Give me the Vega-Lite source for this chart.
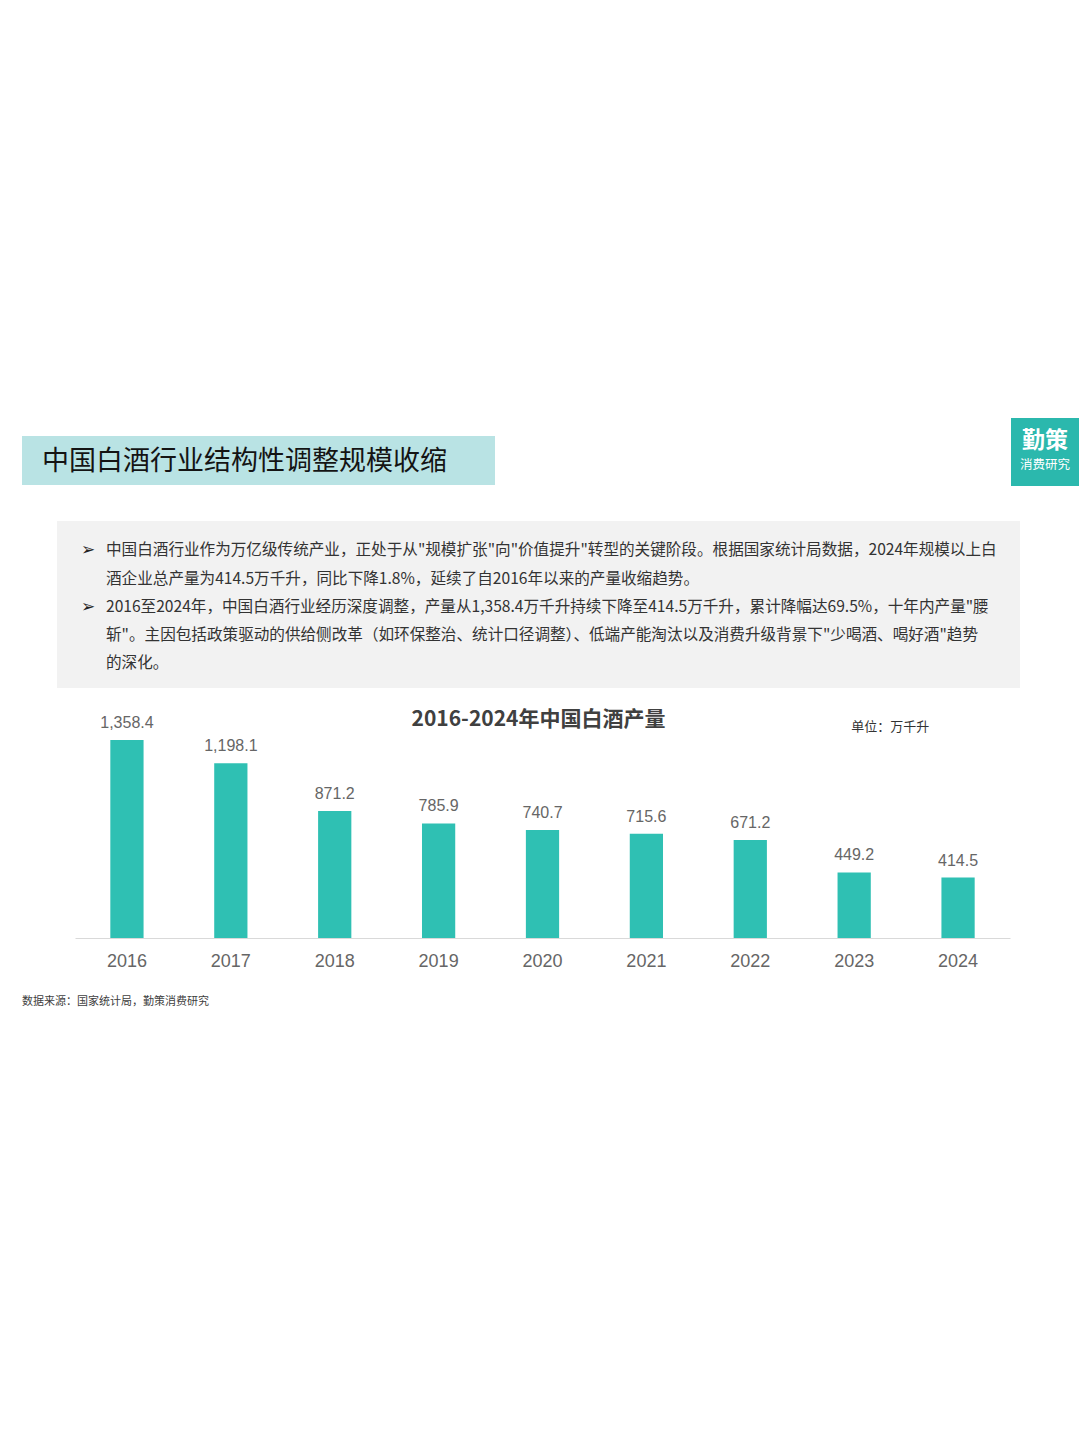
{
  "$schema": "https://vega.github.io/schema/vega-lite/v6.json",
  "background": "white",
  "padding": {"left": 22, "top": 418, "right": 0, "bottom": 0},
  "config": {
    "view": {"stroke": null},
    "font": "Noto Sans CJK SC",
    "concat": {"spacing": 0}
  },
  "spacing": 0,
  "vconcat": [
    {
      "spacing": 516,
      "hconcat": [
        {
          "spacing": 0,
          "vconcat": [
            {"width": 473, "height": 18, "data": {"values": [{}]}, "mark": {"type": "text", "fontSize": 0}, "encoding": {"text": {"value": ""}}},
            {
              "width": 473,
              "height": 49,
              "view": {"fill": "#b9e3e4", "stroke": null},
              "data": {"values": [{"t": "中国白酒行业结构性调整规模收缩"}]},
              "mark": {"type": "text", "align": "left", "baseline": "middle", "dy": 1.5, "fontSize": 27, "color": "#141414", "font": "Noto Sans CJK SC"},
              "encoding": {"x": {"value": 20}, "text": {"field": "t"}}
            }
          ]
        },
        {
          "width": 68,
          "height": 68,
          "view": {"fill": "#2bb8ad", "stroke": null},
          "data": {"values": [{"t": "勤策", "r": "a"}, {"t": "消费研究", "r": "b"}]},
          "layer": [
            {
              "transform": [{"filter": "datum.r == 'a'"}],
              "mark": {"type": "text", "baseline": "middle", "fontSize": 23, "fontWeight": "bold", "color": "white", "font": "Noto Sans CJK SC", "y": 23},
              "encoding": {"text": {"field": "t"}}
            },
            {
              "transform": [{"filter": "datum.r == 'b'"}],
              "mark": {"type": "text", "baseline": "middle", "fontSize": 12.5, "color": "white", "font": "Noto Sans CJK SC", "y": 47},
              "encoding": {"text": {"field": "t"}}
            }
          ]
        }
      ]
    },
    {"width": 1, "height": 35, "data": {"values": [{}]}, "mark": {"type": "text", "fontSize": 0}, "encoding": {"text": {"value": ""}}},
    {
      "spacing": 34,
      "hconcat": [
        {"width": 1, "height": 1, "data": {"values": [{}]}, "mark": {"type": "text", "fontSize": 0}, "encoding": {"text": {"value": ""}}},
        {
          "width": 963,
          "height": 167,
          "view": {"fill": "#f2f2f2", "stroke": null},
          "data": {
            "values": [
              {"line": 1, "bullet": "➢", "text": "中国白酒行业作为万亿级传统产业，正处于从\"规模扩张\"向\"价值提升\"转型的关键阶段。根据国家统计局数据，2024年规模以上白"},
              {"line": 2, "bullet": "", "text": "酒企业总产量为414.5万千升，同比下降1.8%，延续了自2016年以来的产量收缩趋势。"},
              {"line": 3, "bullet": "➢", "text": "2016至2024年，中国白酒行业经历深度调整，产量从1,358.4万千升持续下降至414.5万千升，累计降幅达69.5%，十年内产量\"腰"},
              {"line": 4, "bullet": "", "text": "斩\"。主因包括政策驱动的供给侧改革（如环保整治、统计口径调整）、低端产能淘汰以及消费升级背景下\"少喝酒、喝好酒\"趋势"},
              {"line": 5, "bullet": "", "text": "的深化。"}
            ]
          },
          "encoding": {
            "y": {"field": "line", "type": "quantitative", "scale": {"domain": [0, 5.91], "reverse": true, "nice": false, "zero": false}, "axis": null}
          },
          "layer": [
            {
              "mark": {"type": "text", "align": "left", "baseline": "middle", "dy": 1, "fontSize": 17, "color": "#222222", "font": "DejaVu Sans", "x": 24},
              "encoding": {"text": {"field": "bullet"}}
            },
            {
              "mark": {"type": "text", "align": "left", "baseline": "middle", "dy": 1, "fontSize": 15.6, "color": "#333333", "font": "Noto Sans CJK SC", "x": 49},
              "encoding": {"text": {"field": "text"}}
            }
          ]
        }
      ]
    },
    {"width": 1, "height": 12, "data": {"values": [{}]}, "mark": {"type": "text", "fontSize": 0}, "encoding": {"text": {"value": ""}}},
    {
      "spacing": 52,
      "hconcat": [
        {"width": 1, "height": 1, "data": {"values": [{}]}, "mark": {"type": "text", "fontSize": 0}, "encoding": {"text": {"value": ""}}},
        {
          "width": 935,
          "height": 238,
          "title": {"text": "2016-2024年中国白酒产量", "fontSize": 21, "fontWeight": "bold", "color": "#404040", "anchor": "middle", "frame": "group", "baseline": "middle", "offset": -41, "dx": -4, "font": "Noto Sans CJK SC"},
          "data": {
            "values": [
              {"year": "2016", "value": 1358.4},
              {"year": "2017", "value": 1198.1},
              {"year": "2018", "value": 871.2},
              {"year": "2019", "value": 785.9},
              {"year": "2020", "value": 740.7},
              {"year": "2021", "value": 715.6},
              {"year": "2022", "value": 671.2},
              {"year": "2023", "value": 449.2},
              {"year": "2024", "value": 414.5}
            ]
          },
          "encoding": {
            "x": {
              "field": "year",
              "type": "ordinal",
              "scale": {"paddingInner": 0.68, "paddingOuter": 0.34},
              "axis": {"title": null, "labelAngle": 0, "ticks": false, "grid": false, "domainColor": "#d9d9d9", "domainWidth": 1, "labelFontSize": 18, "labelColor": "#666666", "labelFont": "Liberation Sans", "labelPadding": 14}
            }
          },
          "layer": [
            {
              "mark": {"type": "bar", "color": "#2fc0b3"},
              "encoding": {"y": {"field": "value", "type": "quantitative", "scale": {"domain": [0, 1632], "nice": false}, "axis": null}}
            },
            {
              "mark": {"type": "text", "baseline": "alphabetic", "dy": -12, "fontSize": 16, "color": "#666666", "font": "Liberation Sans"},
              "encoding": {
                "y": {"field": "value", "type": "quantitative"},
                "text": {"field": "value", "type": "quantitative", "format": ",.1f"}
              }
            },
            {
              "data": {"values": [{"t": "单位：万千升"}]},
              "mark": {"type": "text", "align": "left", "baseline": "middle", "dx": -3, "fontSize": 13, "color": "#333333", "font": "Noto Sans CJK SC"},
              "encoding": {"x": {"datum": "2023"}, "y": {"datum": 1447}, "text": {"field": "t"}}
            }
          ]
        }
      ]
    },
    {"width": 1, "height": 26, "data": {"values": [{}]}, "mark": {"type": "text", "fontSize": 0}, "encoding": {"text": {"value": ""}}},
    {
      "width": 300,
      "height": 12,
      "data": {"values": [{"t": "数据来源：国家统计局，勤策消费研究"}]},
      "mark": {"type": "text", "align": "left", "baseline": "middle", "fontSize": 11, "color": "#404040", "font": "Noto Sans CJK SC", "x": 0},
      "encoding": {"text": {"field": "t"}}
    }
  ]
}
